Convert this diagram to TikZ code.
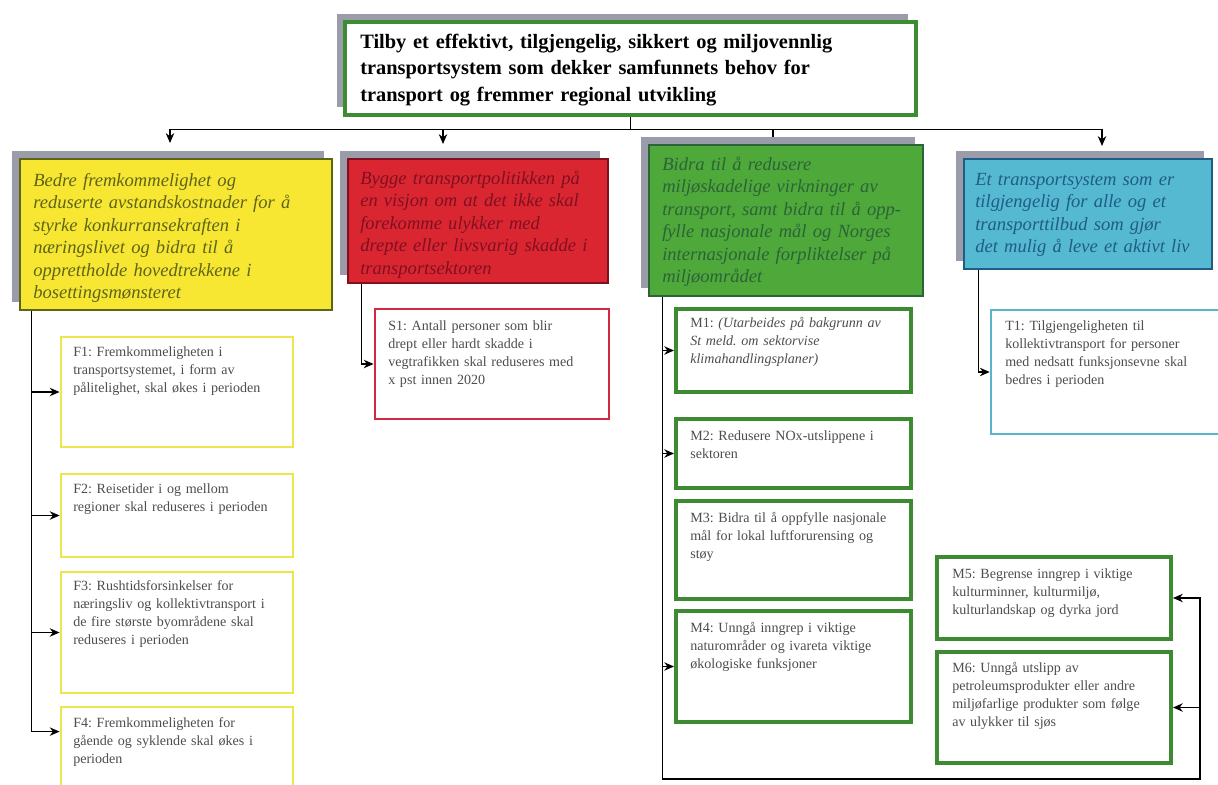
\documentclass[tikz,border=0pt]{standalone}
\usepackage{fontspec}
\setmainfont{Liberation Serif}
\usetikzlibrary{fit,calc,shadows,arrows.meta}
\definecolor{shadowgray}{HTML}{9A9CAA}
\definecolor{goalgreen}{HTML}{3C8C32}
\definecolor{hyellow}{HTML}{F7E733}
\definecolor{hyellowdark}{HTML}{5E6418}
\definecolor{hred}{HTML}{DA2631}
\definecolor{hreddark}{HTML}{801020}
\definecolor{hgreen}{HTML}{4FA83A}
\definecolor{hgreendark}{HTML}{2B6438}
\definecolor{hblue}{HTML}{55B9D2}
\definecolor{hbluedark}{HTML}{1F5C86}
\definecolor{subyellow}{HTML}{EEE44C}
\definecolor{subred}{HTML}{D22840}
\definecolor{subgreen}{HTML}{3D8A33}
\definecolor{subblue}{HTML}{5AB4CC}
\definecolor{subgray}{HTML}{4E4E4E}
\tikzset{
  boxframe/.style={inner sep=0pt, draw},
  shadowed/.style={drop shadow={shadow xshift=-0.2cm, shadow yshift=0.21cm,
      fill=shadowgray, opacity=1}},
  maingoal/.style={boxframe, shadowed, fill=white, draw=goalgreen, line width=3.5pt},
  headbox/.style={boxframe, shadowed, line width=1.2pt},
  subbox/.style={boxframe, fill=white, line width=2pt},
  titletext/.style={anchor=base west, inner sep=0pt, text width=14cm, align=left,
      font=\fontsize{14.5}{19}\selectfont\bfseries},
  headtext/.style={anchor=base west, inner sep=0pt, text width=9cm, align=left,
      font=\fontsize{13.2}{16}\selectfont\itshape},
  subtext/.style={anchor=base west, inner sep=0pt, text width=7cm, align=left,
      text=subgray, font=\fontsize{10}{12.8}\selectfont},
  link/.style={line width=0.9pt, -{Stealth[length=7pt,width=6pt]}},
  line/.style={line width=0.9pt}
}
\begin{document}
\frenchspacing
\begin{tikzpicture}[x=0.025cm,y=-0.025cm]
  \useasboundingbox (0,0) rectangle (1218,784);
  % overordnet mal
  \node[maingoal, fit={(345,22) (916,115)}] (goal) {};
  \node[titletext] (goalt) at (360,48)
    {Tilby et effektivt, tilgjengelig, sikkert og miljovennlig\\
     transportsystem som dekker samfunnets behov for\\
     transport og fremmer regional utvikling};
  % hovedmal
  \node[headbox, fill=hyellow, draw=hyellowdark, fit={(20,159) (332,310)}] (h1) {};
  \node[headbox, fill=hred, draw=hreddark, fit={(348,159) (608,283)}] (h2) {};
  \node[headbox, fill=hgreen, draw=hgreendark, fit={(649,145) (923,296)}] (h3) {};
  \node[headbox, fill=hblue, draw=hbluedark, fit={(964,159) (1212,269)}] (h4) {};
  \node[headtext, text=hyellowdark] (h1t) at (33,186)
    {Bedre fremkommelighet og\\ reduserte avstandskostnader for å\\
     styrke konkurransekraften i\\ næringslivet og bidra til å\\
     opprettholde hovedtrekkene i\\ bosettingsmønsteret};
  \node[headtext, text=hreddark] (h2t) at (360,184)
    {Bygge transportpolitikken på\\ en visjon om at det ikke skal\\
     forekomme ulykker med\\ drepte eller livsvarig skadde i\\ transportsektoren};
  \node[headtext, text=hgreendark] (h3t) at (662,170)
    {Bidra til å redusere\\ miljøskadelige virkninger av\\
     transport, samt bidra til å opp-\\ fylle nasjonale mål og Norges\\
     internasjonale forpliktelser på\\ miljøområdet};
  \node[headtext, text=hbluedark] (h4t) at (975,185)
    {Et transportsystem som er\\ tilgjengelig for alle og et\\
     transporttilbud som gjør\\ det mulig å leve et aktivt liv};
  % etappemal
  \node[subbox, draw=subyellow, fit={(61,337) (293,447)}] (f1) {};
  \node[subbox, draw=subyellow, fit={(61,474) (293,557)}] (f2) {};
  \node[subbox, draw=subyellow, fit={(61,572) (293,693)}] (f3) {};
  \node[subbox, draw=subyellow, fit={(61,707) (293,800)}] (f4) {};
  \node[subbox, draw=subred, fit={(375,309) (609,419)}] (s1) {};
  \node[subbox, draw=subgreen, line width=2.8pt, fit={(676,309) (911,392)}] (m1) {};
  \node[subbox, draw=subgreen, line width=2.8pt, fit={(676,419) (911,488)}] (m2) {};
  \node[subbox, draw=subgreen, line width=2.8pt, fit={(676,501) (911,599)}] (m3) {};
  \node[subbox, draw=subgreen, line width=2.8pt, fit={(676,611) (911,722)}] (m4) {};
  \node[subbox, draw=subgreen, line width=2.8pt, fit={(937,557) (1171,639)}] (m5) {};
  \node[subbox, draw=subgreen, line width=2.8pt, fit={(937,652) (1171,763)}] (m6) {};
  \node[subbox, draw=subblue, line width=1.8pt, fit={(991,310) (1235,434)}] (t1) {};
  \node[subtext] (f1t) at (73,356)
    {F1: Fremkommeligheten i\\ transportsystemet, i form av\\ pålitelighet, skal økes i perioden};
  \node[subtext] (f2t) at (73,493)
    {F2: Reisetider i og mellom\\ regioner skal reduseres i perioden};
  \node[subtext] (f3t) at (73,590)
    {F3: Rushtidsforsinkelser for\\ næringsliv og kollektivtransport i\\
     de fire største byområdene skal\\ reduseres i perioden};
  \node[subtext] (f4t) at (73,727)
    {F4: Fremkommeligheten for\\ gående og syklende skal økes i\\ perioden};
  \node[subtext] (s1t) at (388,330)
    {S1: Antall personer som blir\\ drept eller hardt skadde i\\
     vegtrafikken skal reduseres med\\ x pst innen 2020};
  \node[subtext] (m1t) at (690,327)
    {M1: \textit{(Utarbeides på bakgrunn av\\ St meld. om sektorvise\\ klimahandlingsplaner)}};
  \node[subtext] (m2t) at (690,440)
    {M2: Redusere NOx-utslippene i\\ sektoren};
  \node[subtext] (m3t) at (690,522)
    {M3: Bidra til å oppfylle nasjonale\\ mål for lokal luftforurensing og\\ støy};
  \node[subtext] (m4t) at (690,632)
    {M4: Unngå inngrep i viktige\\ naturområder og ivareta viktige\\ økologiske funksjoner};
  \node[subtext] (m5t) at (952,578)
    {M5: Begrense inngrep i viktige\\ kulturminner, kulturmiljø,\\ kulturlandskap og dyrka jord};
  \node[subtext] (m6t) at (952,672)
    {M6: Unngå utslipp av\\ petroleumsprodukter eller andre\\
     miljøfarlige produkter som følge\\ av ulykker til sjøs};
  \node[subtext] (t1t) at (1005,330)
    {T1: Tilgjengeligheten til\\ kollektivtransport for personer\\
     med nedsatt funksjonsevne skal\\ bedres i perioden};
  % piler
  \coordinate (bus) at ($(goal.south)+(0,12)$);
  \coordinate (a1) at (170,143);
  \coordinate (a2) at (443,144);
  \coordinate (a3) at (773,137);
  \coordinate (a4) at (1102,146);
  \draw[line] (goal.south) -- (bus);
  \draw[link] (bus) -| (a1);
  \draw[link] (bus) -| (a2);
  \draw[line] (bus) -| (a3);
  \draw[link] (bus) -| (a4);
  \coordinate (f4in) at ($(f4.north west)+(0,26)$);
  \draw[line] ($(h1.south west)+(12,0)$) coordinate (sp1) -- (sp1 |- f4in);
  \foreach \n in {f1,f2,f3}
    \draw[link] (sp1 |- \n.west) -- (\n.west);
  \draw[link] (sp1 |- f4in) -- (f4in);
  \draw[link] ($(h2.south west)+(14,0)$) |- (s1.west);
  \coordinate (sp3) at ($(h3.south west)+(14,0)$);
  \coordinate (loop) at ($(m6.south east)+(27,14)$);
  \draw[link] (sp3) |- (loop) |- (m5.east);
  \draw[link] (loop |- m6.east) -- (m6.east);
  \foreach \n in {m1,m2,m4}
    \draw[link] (sp3 |- \n.west) -- (\n.west);
  \draw[link] ($(h4.south west)+(15,0)$) |- (t1.west);
\end{tikzpicture}
\end{document}
